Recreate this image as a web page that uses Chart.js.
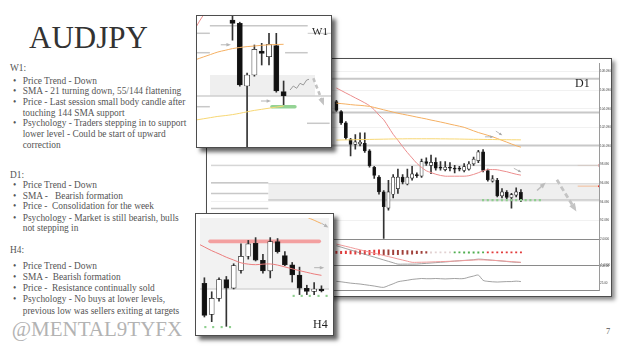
<!DOCTYPE html>
<html>
<head>
<meta charset="utf-8">
<title>AUDJPY</title>
<script src="https://cdn.jsdelivr.net/npm/chart.js@4.4.1/dist/chart.umd.min.js"></script>
<style>
  body { margin: 0; background: #fff; }
  #slide { position: relative; width: 625px; height: 352px; overflow: hidden; background: #fff;
           font-family: "Liberation Serif", "Times New Roman", serif; color: #555; }
  .ln { position: absolute; left: 22.7px; font-size: 9.4px; line-height: 11px; white-space: pre; }
  .ln.b::before { content: "\2022"; position: absolute; left: -9.8px; }
  .ln.hd { left: 10px; }
  .frame { position: absolute; border: 1px solid #4d4d4d; background: #fff; }
  .frame canvas { display: block; }
  .lab { position: absolute; line-height: 1; color: #1e1e1e; white-space: pre; }
</style>
</head>
<body>
<div id="slide">
  <div class="lab" style="left:29px;top:22px;font-size:31px;color:#333">AUDJPY</div>

  <div class="ln hd" style="top:62.9px">W1:</div>
  <div class="ln b" style="top:75.6px">Price Trend - Down</div>
  <div class="ln b" style="top:86.3px">SMA - 21 turning down, 55/144 flattening</div>
  <div class="ln b" style="top:97px">Price - Last session small body candle after</div>
  <div class="ln" style="top:107.7px">touching 144 SMA support</div>
  <div class="ln b" style="top:118.4px">Psychology - Traders stepping in to support</div>
  <div class="ln" style="top:129.1px">lower level - Could be start of upward</div>
  <div class="ln" style="top:139.8px">correction</div>

  <div class="ln hd" style="top:169.6px">D1:</div>
  <div class="ln b" style="top:179.6px">Price Trend - Down</div>
  <div class="ln b" style="top:190.6px">SMA -   Bearish formation</div>
  <div class="ln b" style="top:201.3px">Price -  Consolidation for the week</div>
  <div class="ln b" style="top:212.6px">Psychology - Market is still bearish, bulls</div>
  <div class="ln" style="top:223.3px">not stepping in</div>

  <div class="ln hd" style="top:245.1px">H4:</div>
  <div class="ln b" style="top:261.1px">Price Trend - Down</div>
  <div class="ln b" style="top:271.9px">SMA -  Bearish formation</div>
  <div class="ln b" style="top:282.9px">Price -  Resistance continually sold</div>
  <div class="ln b" style="top:294.1px">Psychology - No buys at lower levels,</div>
  <div class="ln" style="top:305.6px">previous low was sellers exiting at targets</div>

  <div class="lab" style="left:11.7px;top:319.4px;font-size:21px;color:#b3b3b3">@MENTAL9TYFX</div>
  <div class="lab" style="left:606px;top:327px;font-size:8.5px;color:#555">7</div>

  <div class="frame" style="left:206px;top:58px;box-shadow:3px 3px 4px rgba(0,0,0,0.45)">
    <canvas id="d1" width="404" height="237"></canvas>
  </div>
  <div class="lab" style="left:575px;top:77px;font-size:12px">D1</div>

  <div class="frame" style="left:196px;top:15px;box-shadow:4px 4px 4px rgba(0,0,0,0.6)">
    <canvas id="w1" width="134" height="131"></canvas>
  </div>
  <div class="lab" style="left:312px;top:25.8px;font-size:11px">W1</div>

  <div class="frame" style="left:195px;top:213px;box-shadow:4px 4px 4px rgba(0,0,0,0.6)">
    <canvas id="h4" width="137" height="121"></canvas>
  </div>
  <div class="lab" style="left:313px;top:318px;font-size:12px">H4</div>
</div>

<script>
// ---------- D1 (daily) ----------
const d1Dates = ['22 Jul','23 Jul','24 Jul','25 Jul','26 Jul','29 Jul','30 Jul','31 Jul','1 Aug','2 Aug',
  '5 Aug','6 Aug','7 Aug','8 Aug','9 Aug','12 Aug','13 Aug','14 Aug','15 Aug','16 Aug',
  '19 Aug','20 Aug','21 Aug','22 Aug','23 Aug','26 Aug','27 Aug','28 Aug','29 Aug','30 Aug',
  '2 Sep','3 Sep','4 Sep','5 Sep','6 Sep','9 Sep','10 Sep','11 Sep','12 Sep','13 Sep'];
const d1Open  = [104.85,103.79,102.56,100.79,100.26,100.30,100.36,99.56,97.79,96.74,
  95.15,93.40,94.90,95.50,96.74,96.00,96.63,97.00,96.84,98.40,
  98.00,98.32,97.80,97.55,97.75,97.65,97.62,97.45,97.60,98.15,
  98.50,99.45,97.45,96.30,96.40,94.72,95.10,94.55,94.80,95.10];
const d1High  = [105.00,103.90,102.70,100.90,101.32,101.50,101.50,99.70,97.90,96.90,
  95.30,96.40,97.00,97.60,97.00,97.60,97.90,97.20,98.67,98.80,
  99.10,98.80,98.40,98.40,98.30,98.00,97.90,98.20,98.40,98.90,
  99.62,99.70,97.60,96.90,96.60,95.50,95.30,95.00,95.60,95.40];
const d1Low   = [103.80,102.40,100.80,99.03,99.73,100.10,99.40,97.80,96.60,94.90,
  90.15,93.20,94.50,95.00,96.00,95.90,96.40,96.70,96.70,98.00,
  97.10,97.50,97.50,97.40,97.40,97.20,97.40,97.30,97.50,98.00,
  98.30,97.30,96.30,96.20,94.60,94.50,94.40,93.40,94.60,94.10];
const d1Close = [103.90,102.56,100.97,100.26,100.52,100.50,99.56,97.97,96.92,95.15,
  93.56,95.15,96.74,96.74,96.20,96.74,97.09,96.90,98.40,98.20,
  98.32,97.69,97.70,97.80,97.70,97.60,97.60,97.87,98.15,98.67,
  99.45,97.45,96.45,96.55,94.72,95.15,94.55,94.86,95.15,94.30];
const d1Sma21  = [106.31,106.05,105.78,105.52,105.25,104.99,104.72,104.41,103.98,103.40,
  102.90,102.13,101.34,100.70,100.02,99.38,98.80,98.22,97.79,97.42,
  97.23,97.05,96.92,96.84,96.84,96.84,96.84,96.84,96.89,97.03,
  97.21,97.42,97.55,97.55,97.53,97.42,97.32,97.18,97.05,96.95];
const d1Sma55  = [104.69,104.64,104.59,104.53,104.48,104.45,104.40,104.34,104.23,104.10,
  103.97,103.85,103.72,103.60,103.50,103.40,103.30,103.19,103.09,102.99,
  102.87,102.77,102.66,102.55,102.43,102.32,102.21,102.09,101.90,101.71,
  101.53,101.38,101.23,101.07,100.89,100.69,100.50,100.30,100.11,99.96];
const d1Sma144 = [100.72,100.73,100.74,100.75,100.76,100.77,100.78,100.79,100.80,100.81,
  100.82,100.83,100.84,100.85,100.85,100.86,100.86,100.86,100.86,100.86,
  100.86,100.86,100.85,100.85,100.84,100.84,100.83,100.82,100.81,100.80,
  100.80,100.79,100.78,100.78,100.77,100.76,100.76,100.75,100.75,100.74];
const d1HistSize = [0.23,0.27,0.30,0.35,0.38,0.42,0.46,0.50,0.53,0.58,
  0.58,0.58,0.53,0.50,0.46,0.42,0.38,0.30,0.23,0.18,
  0.15,0.12,0.12,0.12,0.12,0.12,0.12,0.15,0.15,0.15,
  0.15,0.12,0.12,0.12,0.12,0.12,0.12,0.12,0.12,0.12];
const d1HistTone = 'rrrrrrrrrrddddddddddpppppggggggg rrrrrrrr'.replace(' ', '');
const d1IndFast = [1.46,1.33,1.20,1.07,0.93,0.80,0.67,0.54,0.41,0.28,
  0.15,0.02,-0.11,-0.25,-0.38,-0.51,-0.64,-0.64,-0.63,-0.62,
  -0.60,-0.58,-0.56,-0.54,-0.52,-0.50,-0.47,-0.44,-0.41,-0.38,
  -0.35,-0.36,-0.38,-0.41,-0.44,-0.48,-0.52,-0.56,-0.60,-0.64];
const d1IndSlow = [1.27,1.11,0.94,0.78,0.61,0.45,0.29,0.12,-0.04,-0.20,
  -0.37,-0.53,-0.69,-0.85,-0.85,-0.85,-0.85,-0.84,-0.80,-0.76,
  -0.72,-0.68,-0.64,-0.60,-0.55,-0.50,-0.46,-0.42,-0.38,-0.34,
  -0.27,-0.30,-0.35,-0.40,-0.45,-0.50,-0.55,-0.60,-0.64,-0.66];
const d1Osc = [31,29,26,23,21,19,16,13,10,6, 4,12,20,29,33,36,40,42,44,43,
  43,44,43,42,43,44,43,44,50,55, 59,36,31,29,28,29,30,30,32,30];
const d1AxisDates = ['22 Jul 2024','28 Jul 2024','2 Aug 2024','8 Aug 2024','14 Aug 2024',
  '20 Aug 2024','26 Aug 2024','30 Aug 2024','5 Sep 2024','11 Sep 2024'];
const d1PriceTicks = [108.09,107.09,106.09,105.09,104.09,103.09,102.09,101.09,100.09,
  99.09,98.09,97.09,96.09,95.09,94.09,93.09,92.09,91.09];
const d1IndTicks = [2, -1];
const d1OscTicks = [100, 75, 25, 0];
const d1MajorLevels = [107.32, 103.69, 100.15];
const d1MinorLevels = [97.97];
const d1ShortLevels = [96.13, 94.97, 93.38];
const d1Zone = [94.27, 96.03];
const d1Support = 94.27;
const d1SupportDots = [31,32,33,34,35,36,37,38,39,40,41,42,43];
const d1Alerts = [97.99, 95.77];

// ---------- W1 (weekly) ----------
const w1Open  = [102.80,102.49,96.22,97.32,99.72,99.15,100.25,95.65];
const w1High  = [103.90,102.60,97.52,100.32,100.49,101.49,101.49,96.72];
const w1Low   = [100.80,96.20,90.15,97.20,98.32,98.32,95.60,94.15];
const w1Close = [102.49,96.32,97.32,99.89,99.49,100.39,95.72,95.22];
const w1SmaX   = [-5,-4,-3,-2,-1,0,1,2,3,4,5,6,7];
const w1Sma21  = [102.1,103.3,104.1,104.7,105.0,105.1,105.0,104.8,104.5,104.2,103.9,103.7,103.5];
const w1Sma55  = [98.86,99.12,99.37,99.62,99.79,99.96,100.07,100.16,100.22,100.29,100.34,100.37,100.39];
const w1Sma144 = [92.82,92.94,93.06,93.18,93.26,93.36,93.49,93.64,93.78,93.89,94.00,94.11,94.22];
const w1Zone = [95.22, 97.32];
const w1Support = 94.15;
const w1Squiggle = [[7.88,95.82],[8.33,96.22],[8.79,95.99],[9.25,96.49],[9.70,96.32],[10.16,96.82],[10.48,96.89]];

// ---------- H4 ----------
const h4Open  = [94.80,93.14,94.00,95.00,94.54,95.50,96.25,96.95,96.04,95.47,97.04,96.29,95.79,95.25,94.54,94.37,94.50];
const h4High  = [95.10,94.35,95.10,95.17,95.85,96.92,97.10,97.25,96.35,97.25,97.20,96.50,95.92,95.67,94.70,94.84,94.67];
const h4Low   = [93.00,92.75,93.85,92.50,94.50,95.35,96.10,96.00,95.35,95.09,96.42,95.75,94.87,94.20,94.20,94.20,94.34];
const h4Close = [93.09,94.00,95.00,94.54,95.75,96.25,96.92,96.04,95.47,97.04,96.50,95.79,95.25,94.54,94.37,94.50,94.40];
const h4SmaRedX = [-1,0,1,2,3,4,5,6,7,8,9,10,11,12,13,14,15,16];
const h4SmaRed  = [96.95,96.75,96.55,96.38,96.20,96.05,95.90,95.83,95.80,95.83,95.84,95.78,95.68,95.58,95.48,95.39,95.30,95.23];
const h4SmaOrgX = [12,13,14,15,16];
const h4SmaOrg  = [98.90,98.60,98.35,98.18,98.00];
const h4Floor = 94.5;
const h4Resistance = 97.05;
const h4DotsTopX = [12.2,13.3,14.4,15.6,16.7];
const h4DotsLowX = [0.13,1.2,2.36,3.5];
const h4DotsTop = 94.13, h4DotsLow = 92.46;

// ---------- helpers ----------
const pts = (xs, ys) => xs.map((x, k) => ({ x, y: ys[k] }));
const idx = arr => arr.map((_, i) => i);

function candles(xs, o, h, l, c, yAxisID, bodyW) {
  return [
    { type: 'bar', data: xs.map((x, k) => ({ x, y: [l[k], h[k]] })), backgroundColor: '#333',
      barThickness: 1, grouped: false, borderSkipped: false, order: 3, yAxisID },
    { type: 'bar', data: xs.map((x, k) => ({ x, y: [o[k], c[k]] })),
      backgroundColor: xs.map((x, k) => c[k] < o[k] ? '#111' : '#fff'),
      borderColor: '#222', borderWidth: 0.7, borderSkipped: false, barThickness: bodyW,
      minBarLength: 1, grouped: false, order: 2, yAxisID }
  ];
}
function sma(xs, ys, color, width, yAxisID) {
  return { type: 'line', data: pts(xs, ys), borderColor: color, borderWidth: width,
    pointRadius: 0, tension: 0.35, order: 1, yAxisID };
}
function hline(p, from, to, color, width, yAxisID, extra) {
  return Object.assign({ type: 'line', data: [{ x: from, y: p }, { x: to, y: p }], borderColor: color,
    borderWidth: width, pointRadius: 0, order: 9, yAxisID }, extra || {});
}
function zone(lo, hi, from, to, color, yAxisID) {
  return { type: 'line', data: [{ x: from, y: hi }, { x: to, y: hi }], borderWidth: 0, pointRadius: 0,
    fill: { value: lo }, backgroundColor: color, order: 11, yAxisID };
}
function dots(xs, p, yAxisID) {
  return { type: 'line', data: xs.map(x => ({ x, y: p })), showLine: false, pointStyle: 'rect',
    pointRadius: 1.5, pointBackgroundColor: '#8fcf8f', pointBorderWidth: 0, order: 1, yAxisID };
}

const arrowsPlugin = {
  id: 'arrows',
  afterDatasetsDraw(chart, args, opts) {
    const { ctx, chartArea: a } = chart;
    const xs = chart.scales.x, ys = chart.scales.y;
    ctx.save();
    ctx.beginPath(); ctx.rect(a.left, a.top, a.width, a.height); ctx.clip();
    (opts.items || []).forEach(it => {
      const p = it.pts.map(q => [xs.getPixelForValue(q[0]), ys.getPixelForValue(q[1])]);
      ctx.strokeStyle = it.color; ctx.fillStyle = it.color;
      ctx.lineWidth = it.width; ctx.lineCap = 'butt'; ctx.lineJoin = 'round';
      ctx.setLineDash(it.dash || []);
      ctx.beginPath();
      p.forEach((q, k) => k ? ctx.lineTo(q[0], q[1]) : ctx.moveTo(q[0], q[1]));
      ctx.stroke();
      if (it.head) {
        const [x1, y1] = p[p.length - 2], [x2, y2] = p[p.length - 1];
        const ang = Math.atan2(y2 - y1, x2 - x1), s = it.head;
        ctx.setLineDash([]);
        ctx.beginPath();
        ctx.moveTo(x2 + Math.cos(ang) * s * 0.7, y2 + Math.sin(ang) * s * 0.7);
        ctx.lineTo(x2 + Math.cos(ang + 2.5) * s, y2 + Math.sin(ang + 2.5) * s);
        ctx.lineTo(x2 + Math.cos(ang - 2.5) * s, y2 + Math.sin(ang - 2.5) * s);
        ctx.closePath(); ctx.fill();
      }
    });
    ctx.restore();
  }
};

const panelsPlugin = {
  id: 'panels',
  afterDraw(chart) {
    const { ctx, chartArea: a, scales: s } = chart;
    ctx.save();
    ctx.strokeStyle = '#8a8a8a'; ctx.lineWidth = 1;
    [s.yInd.top, s.yOsc.top, a.bottom].forEach(y => {
      ctx.beginPath(); ctx.moveTo(a.left, Math.round(y) + 0.5); ctx.lineTo(a.right, Math.round(y) + 0.5); ctx.stroke();
    });
    ctx.restore();
  }
};

const base = { responsive: false, animation: false, events: [], devicePixelRatio: 1,
  layout: { padding: 0 } };
const tinyFont = { family: 'Liberation Sans', size: 3 };
const fixRight = s => { s.width = 12; s.paddingTop = 0; s.paddingBottom = 0; };

// ---------- D1 chart ----------
const d1X = idx(d1Dates);
const toneColor = { r: '#e23b3b', d: '#a0403a', p: '#e2d2d2', g: '#4fae4f' };
new Chart(document.getElementById('d1'), {
  type: 'bar',
  data: { datasets: [
    zone(d1Zone[0], d1Zone[1], -14.4, 55.5, '#efefef', 'y'),
    ...d1MajorLevels.map(p => hline(p, -26.5, 55.5, '#c8c8c8', 2, 'y')),
    ...d1MinorLevels.map(p => hline(p, -26.5, 55.5, '#cfcfcf', 1, 'y')),
    ...d1ShortLevels.map(p => hline(p, -26.5, -14.4, '#c8c8c8', 1.5, 'y')),
    hline(d1Zone[0], -14.4, 55.5, '#c8c8c8', 1.5, 'y'),
    hline(d1Zone[1], -14.4, 55.5, '#d8d8d8', 1, 'y'),
    ...d1Alerts.map(p => hline(p, 51, 55.5, '#f4b183', 0.8, 'y',
      { pointRadius: [0, 1], pointBackgroundColor: '#e02020', pointBorderWidth: 0 })),
    ...candles(d1X, d1Open, d1High, d1Low, d1Close, 'y', 3.2),
    sma(d1X, d1Sma144, '#f7d774', 1, 'y'),
    sma(d1X, d1Sma55, '#f5b063', 1, 'y'),
    sma(d1X, d1Sma21, '#ec8d8d', 1, 'y'),
    dots(d1SupportDots, d1Support, 'y'),
    { type: 'bar', data: d1X.map(i => ({ x: i, y: [0.5 - d1HistSize[i] / 2, 0.5 + d1HistSize[i] / 2] })),
      backgroundColor: d1X.map(i => toneColor[d1HistTone[i]]), barThickness: 1.3, grouped: false,
      borderSkipped: false, yAxisID: 'yInd', order: 2 },
    sma(d1X, d1IndFast, '#f09a9a', 1, 'yInd'),
    sma(d1X, d1IndSlow, '#8c8c8c', 0.8, 'yInd'),
    sma(d1X, d1Osc, '#8a8a8a', 0.8, 'yOsc')
  ] },
  options: Object.assign({}, base, {
    plugins: { legend: { display: false }, tooltip: { enabled: false },
      arrows: { items: [
        { pts: [[31.4, 101.07], [32.9, 101.07]], color: '#a8a8a8', width: 0.8, head: 2.2 },
        { pts: [[33.7, 101.68], [34.8, 101.32]], color: '#a8a8a8', width: 0.8, head: 2.2 },
        { pts: [[37.5, 97.69], [38.8, 97.34]], color: '#a8a8a8', width: 0.8, head: 2.2 },
        { pts: [[42.4, 95.30], [43.8, 95.95]], color: '#bdbdbd', width: 1.6, head: 4 },
        { pts: [[46.6, 96.45], [50.3, 93.40]], color: '#c4c4c4', width: 2.8, dash: [5, 3], head: 5.5 }
      ] } },
    scales: {
      x: { type: 'linear', min: -26.5, max: 55.5, offset: false,
        grid: { display: false }, border: { display: false },
        afterBuildTicks: s => { s.ticks = d1AxisDates.map((_, k) => ({ value: 1 + 4 * k })); },
        afterFit: s => { s.height = 6; s.paddingLeft = 0; s.paddingRight = 0; },
        ticks: { autoSkip: false, maxRotation: 0, align: 'start', padding: 1, font: tinyFont, color: '#555',
          callback: (v, k) => d1AxisDates[k] } },
      y: { type: 'linear', position: 'right', stack: 'd1', stackWeight: 179.5, min: 90.05, max: 109.0,
        grid: { color: '#f1f1f1', drawTicks: false }, border: { color: '#9a9a9a' },
        afterBuildTicks: s => { s.ticks = d1PriceTicks.map(v => ({ value: v })); },
        afterFit: fixRight,
        ticks: { padding: 1, font: tinyFont, color: '#444', callback: v => v.toFixed(3) } },
      yInd: { type: 'linear', position: 'right', stack: 'd1', stackWeight: 26.5, min: -1, max: 2,
        grid: { display: false, drawTicks: false }, border: { color: '#9a9a9a' },
        afterBuildTicks: s => { s.ticks = d1IndTicks.map(v => ({ value: v })); },
        afterFit: fixRight,
        ticks: { padding: 1, font: tinyFont, color: '#444', callback: v => v.toFixed(4) } },
      yOsc: { type: 'linear', position: 'right', stack: 'd1', stackWeight: 25, min: -8, max: 103,
        grid: { display: false, drawTicks: false }, border: { color: '#9a9a9a' },
        afterBuildTicks: s => { s.ticks = d1OscTicks.map(v => ({ value: v })); },
        afterFit: fixRight,
        ticks: { padding: 1, font: tinyFont, color: '#444', callback: v => v.toFixed(2) } }
    }
  }),
  plugins: [panelsPlugin, arrowsPlugin]
});

// ---------- W1 chart ----------
const w1X = idx(w1Open);
new Chart(document.getElementById('w1'), {
  type: 'bar',
  data: { datasets: [
    zone(w1Zone[0], w1Zone[1], -3.1, 11.3, '#efefef', 'y'),
    hline(w1Zone[0], -4.86, 13.49, '#cfcfcf', 1.5, 'y'),
    hline(102.25, -3.1, 10.3, '#c8c8c8', 1.5, 'y'),
    hline(101.49, -4.86, -3.1, '#c8c8c8', 1.5, 'y'),
    hline(101.49, 10.3, 13.49, '#c8c8c8', 1, 'y'),
    hline(99.55, -4.86, -3.1, '#c8c8c8', 1.5, 'y'),
    hline(99.55, 7.2, 10.3, '#c8c8c8', 1.5, 'y'),
    hline(94.15, -4.86, -3.1, '#c8c8c8', 1.5, 'y'),
    hline(92.49, 10.2, 13.3, '#c8c8c8', 1.5, 'y'),
    ...candles(w1X, w1Open, w1High, w1Low, w1Close, 'y', 5.2),
    sma(w1SmaX, w1Sma144, '#f7d774', 1, 'y'),
    sma(w1SmaX, w1Sma55, '#f5b063', 1, 'y'),
    sma(w1SmaX, w1Sma21, '#ec8d8d', 1, 'y'),
    hline(w1Support, 5.4, 8.55, '#94d394', 3.5, 'y', { borderCapStyle: 'round', order: 1 })
  ] },
  options: Object.assign({}, base, {
    plugins: { legend: { display: false }, tooltip: { enabled: false },
      arrows: { items: [
        { pts: [[-1.6, 100.34], [-0.5, 100.34]], color: '#b5b5b5', width: 1, head: 3 },
        { pts: [[3.9, 94.72], [5.0, 94.72]], color: '#b5b5b5', width: 1, head: 3 },
        { pts: w1Squiggle, color: '#9a9a9a', width: 1 },
        { pts: [[11.07, 96.99], [12.35, 94.6]], color: '#c2c2c2', width: 2.6, dash: [4, 3], head: 5 }
      ] } },
    scales: {
      x: { type: 'linear', display: false, min: -4.86, max: 13.49, offset: false },
      y: { type: 'linear', display: false, min: 90.12, max: 103.22 }
    }
  }),
  plugins: [arrowsPlugin]
});

// ---------- H4 chart ----------
const h4X = idx(h4Open);
new Chart(document.getElementById('h4'), {
  type: 'bar',
  data: { datasets: [
    { type: 'line', data: [{ x: -0.6, y: h4Floor }, { x: 17.03, y: h4Floor }], borderColor: '#d6d6d6',
      borderWidth: 1.5, pointRadius: 0, fill: 'end', backgroundColor: '#f2f2f2', order: 11 },
    hline(h4Resistance, 0.77, 15.7, 'rgba(242,128,128,0.72)', 3.6, 'y', { borderCapStyle: 'round', order: 4 }),
    ...candles(h4X, h4Open, h4High, h4Low, h4Close, 'y', 5),
    sma(h4SmaRedX, h4SmaRed, '#ec7d7d', 1, 'y'),
    sma(h4SmaOrgX, h4SmaOrg, '#f5b063', 1, 'y'),
    dots(h4DotsTopX, h4DotsTop, 'y'),
    dots(h4DotsLowX, h4DotsLow, 'y')
  ] },
  options: Object.assign({}, base, {
    plugins: { legend: { display: false }, tooltip: { enabled: false },
      arrows: { items: [
        { pts: [[15.0, 95.64], [16.1, 95.64]], color: '#b5b5b5', width: 1, head: 3 },
        { pts: [[16.0, 98.02], [16.7, 97.85]], color: '#b5b5b5', width: 1, head: 3 }
      ] } },
    scales: {
      x: { type: 'linear', display: false, min: -0.6, max: 17.03, offset: false },
      y: { type: 'linear', display: false, min: 92.25, max: 98.3 }
    }
  }),
  plugins: [arrowsPlugin]
});
</script>
</body>
</html>
